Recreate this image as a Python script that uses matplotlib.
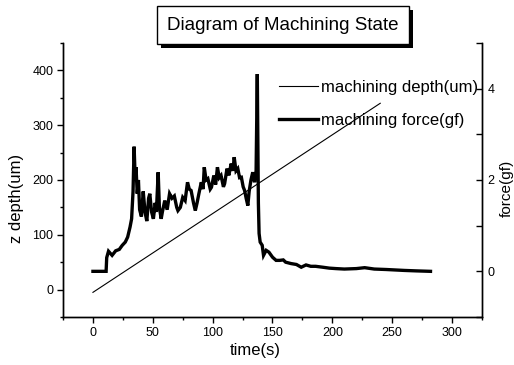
#!/usr/bin/env python3
"""Diagram of Machining State: depth (left axis) and force (right axis) vs time."""

import matplotlib

matplotlib.use("Agg")
import matplotlib.pyplot as plt
import matplotlib.patheffects as pe
from matplotlib.ticker import MultipleLocator

plt.rcParams["font.family"] = ["Liberation Sans", "DejaVu Sans"]

# machining depth (um): a straight ramp
depth_time = [0, 240]
depth_um = [-5, 340]

# machining force (gf)
force_time = [
    0, 11, 11.5, 13, 16, 19, 22, 24.5, 27, 29, 31, 32.3, 33.5, 34.4, 35.2, 36,
    37, 38, 39, 40.5, 42, 43.5, 45, 46.5, 47.5, 49, 50.5, 52, 53, 54.5, 55.5,
    57, 58, 60, 62, 64, 66, 68, 70, 71, 73, 75, 77, 79, 80.5, 82, 84, 85.5,
    87, 88.5, 90.5, 92, 93, 94.5, 96, 98, 99, 101, 102.5, 104, 105.5, 107,
    109, 110, 112, 113.5, 115.5, 117, 118, 119.5, 121, 122.5, 124, 125.5,
    126.7, 128, 129.4, 130.5, 132, 133.5, 135, 136.3, 137.3, 138.2, 138.8,
    139.7, 141.4, 142.5, 144.7, 147, 150, 153, 156, 159, 161, 165.5, 170,
    174, 178, 182, 186, 192, 197.5, 203, 210, 220, 227, 235, 245, 260, 270,
    282,
]
force_gf = [
    0.0, 0.0, 0.3, 0.44, 0.35, 0.45, 0.48, 0.57, 0.64, 0.75, 0.97, 1.15,
    1.75, 2.73, 2.1, 2.28, 1.7, 2.0, 1.35, 1.2, 1.75, 1.3, 1.1, 1.6, 1.7,
    1.3, 1.15, 1.5, 1.3, 2.17, 1.4, 1.15, 1.3, 1.55, 1.35, 1.7, 1.6, 1.65,
    1.4, 1.33, 1.4, 1.62, 1.55, 1.95, 1.8, 1.77, 1.5, 1.33, 1.5, 1.7, 1.95,
    1.8, 2.28, 2.0, 2.03, 1.8, 1.84, 2.1, 1.9, 2.28, 2.05, 2.1, 1.85, 1.92,
    2.25, 2.1, 2.36, 2.2, 2.5, 2.2, 2.25, 2.05, 2.06, 1.85, 1.77, 1.6, 1.44,
    1.75, 2.0, 2.17, 1.95, 2.2, 4.32, 1.5, 0.83, 0.64, 0.57, 0.35, 0.46,
    0.42, 0.31, 0.24, 0.24, 0.25, 0.2, 0.17, 0.15, 0.09, 0.14, 0.11, 0.11,
    0.09, 0.07, 0.06, 0.05, 0.06, 0.08, 0.05, 0.04, 0.02, 0.01, 0.0,
]

fig = plt.figure(figsize=(5.14, 3.65), dpi=100)
ax = fig.add_axes([0.1226, 0.1315, 0.8151, 0.7507])
ax2 = ax.twinx()

# 加工深さ（細線）
(l_depth,) = ax.plot(depth_time, depth_um, color="black", linewidth=0.8,
                     label="machining depth(um)")
# 加工力（太線）
(l_force,) = ax2.plot(force_time, force_gf, color="black", linewidth=2.4,
                      solid_joinstyle="miter", label="machining force(gf)")

ax.set_xlim(-25, 325)
ax.set_ylim(-50, 450)
ax2.set_ylim(-1, 5)

ax.xaxis.set_major_locator(MultipleLocator(50))
ax.xaxis.set_minor_locator(MultipleLocator(25))
ax.yaxis.set_major_locator(MultipleLocator(100))
ax.yaxis.set_minor_locator(MultipleLocator(50))
ax2.yaxis.set_major_locator(MultipleLocator(2))
ax2.yaxis.set_minor_locator(MultipleLocator(1))

for a in (ax, ax2):
    a.spines["top"].set_visible(False)
    for s in a.spines.values():
        s.set_linewidth(1.0)

ax.tick_params(axis="both", which="major", direction="out", length=4,
               width=1, labelsize=9, pad=3)
ax.tick_params(axis="both", which="minor", direction="out", length=2, width=1)
ax2.tick_params(axis="y", which="major", direction="in", length=4, width=1,
                labelsize=9, pad=4)
ax2.tick_params(axis="y", which="minor", direction="in", length=4, width=1)

ax.set_xlabel("time(s)", fontsize=12, ha="center", va="center")
ax.set_ylabel("z depth(um)", fontsize=12, ha="center", va="center")
ax2.set_ylabel("force(gf)", fontsize=11, ha="center", va="center")
# ラベル位置を参照画像に合わせる（中心座標）
ax.xaxis.set_label_coords((255 - 63) / 419, -(350 - 317) / 274)
ax.yaxis.set_label_coords((16 - 63) / 419, (317 - 198) / 274)
ax2.yaxis.set_label_coords((507 - 63) / 419, (317 - 188) / 274)

ax2.legend(handles=[l_depth, l_force], loc="upper right",
           bbox_to_anchor=(478 / 514, 1 - 80 / 365),
           bbox_transform=fig.transFigure, frameon=False, fontsize=12,
           handlelength=2.3, handletextpad=0.2, labelspacing=1.05,
           borderpad=0, borderaxespad=0)

# 影付きのタイトルボックス
title = fig.text(283 / 514, 1 - 25 / 365, "Diagram of Machining State",
                 ha="center", va="center", fontsize=13.5,
                 bbox=dict(boxstyle="square,pad=0.55", facecolor="white",
                           edgecolor="black", linewidth=1.0))
title.get_bbox_patch().set_path_effects([
    pe.SimplePatchShadow(offset=(3, -3), shadow_rgbFace="black", alpha=1.0),
    pe.Normal(),
])

fig.savefig("out.png", dpi=100)
